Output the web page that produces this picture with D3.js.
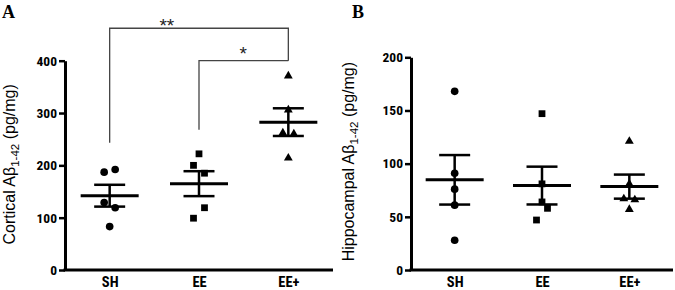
<!DOCTYPE html>
<html>
<head>
<meta charset="utf-8">
<script src="https://cdn.jsdelivr.net/npm/d3@7"></script>
<style>
  body { margin: 0; background: #fff; }
  svg { display: block; }
  .tick text { font-family: "Roboto Condensed", "Liberation Sans", Arial, sans-serif; font-weight: bold; fill: #000; }
</style>
</head>
<body>
<svg id="chart" width="675" height="290"></svg>
<script>
// groups on the x axis
const categories = ["SH", "EE", "EE+"];

// cortical Abeta 1-42 (pg/mg), one array per group
const cortSH = [187, 192, 129, 119, 83];
const cortEE = [222, 200, 185, 119, 99];
const cortEEplus = [371, 306, 262, 260, 214];
// side-by-side column of each dot (-1 left, 0 centre, 1 right)
const cortJitter = [[-1, 1, -1, 1, 0], [0, -1, 1, 1, -1], [0, 0, -1, 1, 0]];
const cortTicks = [0, 100, 200, 300, 400];

// hippocampal Abeta 1-42 (pg/mg)
const hippSH = [168, 91, 76, 61, 28];
const hippEE = [147, 81, 64, 58, 47];
const hippEEplus = [121, 81, 67, 66, 57];
const hippJitter = [[0, 0, 0, 0, 0], [0, 0, 0, 1, -1], [0, 0, -1, 1, 0]];
const hippTicks = [0, 50, 100, 150, 200];

// significance brackets on panel A (values in pg/mg)
const sigFrom = ["SH", "EE"];
const sigTo = ["EE+", "EE+"];
const sigTop = [462, 400];
const sigLeftEnd = [243, 268];
const sigRightEnd = [400, 400];
const sigLabel = ["**", "*"];
const sigLabelPos = [0.32, 0.495];

const svg = d3.select("#chart");
const symbols = [d3.symbolCircle, d3.symbolSquare, d3.symbolTriangle];
const symbolSizes = [46, 46, 34];

function sem(a) {
  return d3.deviation(a) / Math.sqrt(a.length);
}

function panel(opt) {
  const x = d3.scalePoint().domain(categories).range([opt.left, opt.right]).padding(0.5);
  const y = d3.scaleLinear().domain([0, opt.max]).range([opt.bottom, opt.top]);

  // axes
  const ya = svg.append("g")
    .attr("transform", `translate(${opt.left},0)`)
    .call(d3.axisLeft(y).tickValues(opt.ticks).tickSize(6).tickPadding(2).tickSizeOuter(0));
  ya.select(".domain").attr("stroke-width", 3);
  ya.selectAll(".tick line").attr("stroke-width", 2.5);
  ya.selectAll(".tick text").style("font-size", "13.5px");

  const xa = svg.append("g")
    .attr("transform", `translate(0,${opt.bottom})`)
    .call(d3.axisBottom(x).tickSize(0).tickPadding(7).tickSizeOuter(0));
  xa.select(".domain").attr("stroke-width", 3).attr("d", `M${opt.left - 1.5},0H${opt.right}`);
  xa.selectAll(".tick text").style("font-size", "14.5px");

  // mean +/- SEM
  opt.groups.forEach((vals, i) => {
    const cx = x(categories[i]);
    const m = d3.mean(vals), s = sem(vals);
    const g = svg.append("g").attr("stroke", "#000").attr("fill", "none");
    g.append("line").attr("x1", cx).attr("x2", cx).attr("y1", y(m - s)).attr("y2", y(m + s)).attr("stroke-width", 2.5);
    [m - s, m + s].forEach(v => {
      g.append("line").attr("x1", cx - 15.5).attr("x2", cx + 15.5).attr("y1", y(v)).attr("y2", y(v)).attr("stroke-width", 2.5);
    });
    g.append("line").attr("x1", cx - 29).attr("x2", cx + 29).attr("y1", y(m)).attr("y2", y(m)).attr("stroke-width", 3);

    // dots
    svg.append("g").selectAll("path")
      .data(vals)
      .enter()
      .append("path")
      .attr("d", d3.symbol().type(symbols[i]).size(symbolSizes[i]))
      .attr("transform", (d, j) => `translate(${cx + opt.jitter[i][j] * 5.5},${y(d)})`)
      .attr("fill", "#000");
  });

  // y title
  const t = svg.append("text")
    .attr("transform", `translate(${opt.titleX},${(opt.top + opt.bottom) / 2 + opt.titleShift}) rotate(-90)`)
    .attr("text-anchor", "middle")
    .style("font-family", "'Liberation Sans', Arial, sans-serif")
    .style("font-size", "16px")
    .attr("fill", "#000");
  t.append("tspan").text(opt.title + " A\u03b2");
  t.append("tspan").attr("dy", 4).style("font-size", "11.5px").text("1-42");
  t.append("tspan").attr("dy", -4).text(" (pg/mg)");

  // panel letter
  svg.append("text")
    .attr("x", opt.letterX).attr("y", 18)
    .style("font-family", "'Liberation Serif', 'Times New Roman', serif")
    .style("font-weight", "bold")
    .style("font-size", "18px")
    .text(opt.letter);

  return { x, y };
}

const A = panel({
  left: 65, right: 333, top: 60.7, bottom: 270, max: 400, ticks: cortTicks,
  groups: [cortSH, cortEE, cortEEplus], jitter: cortJitter,
  title: "Cortical", titleX: 15, titleShift: -1, letter: "A", letterX: 2
});

panel({
  left: 411, right: 673, top: 57.3, bottom: 270, max: 200, ticks: hippTicks,
  groups: [hippSH, hippEE, hippEEplus], jitter: hippJitter,
  title: "Hippocampal", titleX: 354, titleShift: -2, letter: "B", letterX: 352
});

// brackets
const starSize = 19;
const starGap = [7.6, 11.4];
sigLabel.forEach((lab, i) => {
  const x1 = A.x(sigFrom[i]), x2 = A.x(sigTo[i]);
  svg.append("path")
    .attr("d", `M${x1},${A.y(sigLeftEnd[i])}V${A.y(sigTop[i])}H${x2}V${A.y(sigRightEnd[i])}`)
    .attr("fill", "none")
    .attr("stroke", "#444")
    .attr("stroke-width", 1.3);
  svg.append("text")
    .attr("x", x1 + (x2 - x1) * sigLabelPos[i])
    .attr("y", A.y(sigTop[i]) - starGap[i] + 0.573 * starSize)
    .attr("text-anchor", "middle")
    .style("font-family", "'Liberation Sans', Arial, sans-serif")
    .style("font-size", starSize + "px")
    .attr("fill", "#222")
    .text(lab);
});
</script>
</body>
</html>
